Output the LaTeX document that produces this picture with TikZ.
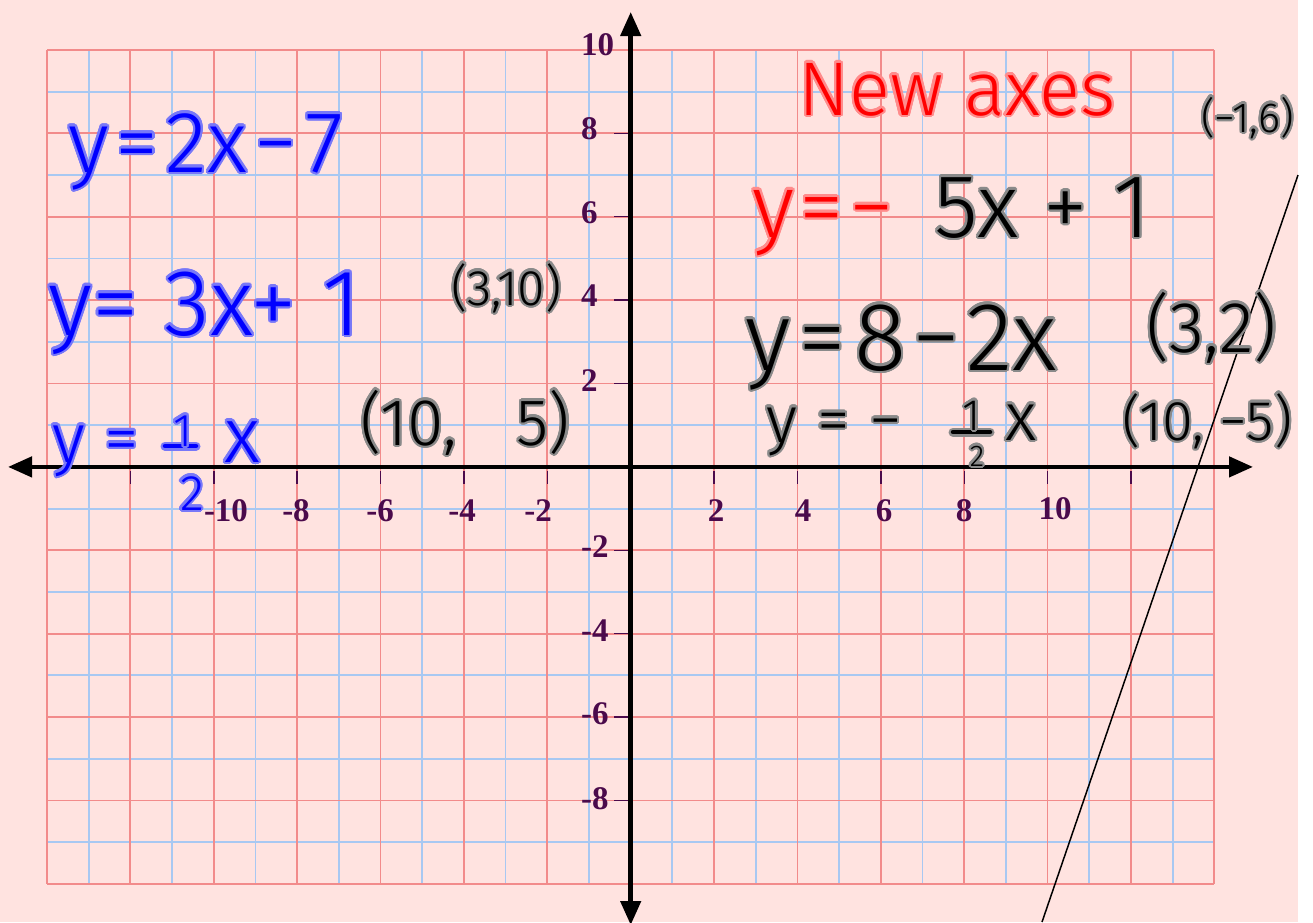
\documentclass[tikz,border=0pt]{standalone}
\usepackage{fontspec}
\usepackage{contour}
\usetikzlibrary{arrows.meta}
\newfontfamily\hand{Fira Sans Light}
\newfontfamily\lblfont{Liberation Serif}
\definecolor{bg}{HTML}{FFE3E0}
\definecolor{gridR}{HTML}{F28B8B}
\definecolor{gridB}{HTML}{A8C8F2}
\definecolor{lab}{HTML}{4B0A4B}
\definecolor{inkB}{HTML}{0000FF}
\definecolor{haloB}{HTML}{7878F8}
\definecolor{inkK}{HTML}{000000}
\definecolor{haloK}{HTML}{8A8A8A}
\definecolor{inkR}{HTML}{FF0000}
\definecolor{haloR}{HTML}{FF8C8C}
\contourlength{2.2pt}
\contournumber{24}
\newcommand\hsz[1]{\fontsize{#1}{#1}\selectfont}
\newcommand\inkblue[2]{{\hand\hsz{#1}\color{inkB}\contour{haloB}{#2}}}
\newcommand\inkblack[2]{{\hand\hsz{#1}\color{inkK}\contour{haloK}{#2}}}
\newcommand\inkred[2]{{\hand\hsz{#1}\color{inkR}\contour{haloR}{#2}}}
\tikzset{
  gb/.style={draw=gridB, line width=1.8pt},
  gr/.style={draw=gridR, line width=1.8pt},
  axisline/.style={line width=4.5pt, {Triangle[length=24pt,width=20pt]}-{Triangle[length=24pt,width=20pt]}},
  tickmark/.style={draw=lab, line width=1.4pt},
  xlab/.style={font=\lblfont\bfseries\hsz{33}, text=lab, inner sep=0pt, anchor=base},
  ylab/.style={font=\lblfont\bfseries\hsz{33}, text=lab, inner sep=0pt, anchor=base west},
  hw/.style={inner sep=0pt, anchor=base west},
  hwc/.style={inner sep=0pt, anchor=base},
  barhaloB/.style={draw=haloB, line width=9pt, line cap=round},
  barcoreB/.style={draw=inkB, line width=4.5pt, line cap=round},
  barhaloK/.style={draw=haloK, line width=9pt, line cap=round},
  barcoreK/.style={draw=inkK, line width=4.5pt, line cap=round},
  thinline/.style={draw=black, line width=1.5pt}
}
\begin{document}
\begin{tikzpicture}[x=1pt,y=-1pt]
\fill[white] (0,0) rectangle (1313,922);
\fill[bg] (0,0) rectangle (1298,922);
\useasboundingbox (0,0) rectangle (1313,922);
\def\u{41.69}
% grid
\foreach \i in {1,3,...,27} \draw[gb] ({47+\i*\u},50) -- ({47+\i*\u},883.8);
\foreach \j in {1,3,...,19} \draw[gb] (47,{50+\j*\u}) -- (1214.3,{50+\j*\u});
\foreach \i in {0,2,...,28} \draw[gr] ({47+\i*\u},50) -- ({47+\i*\u},883.8);
\foreach \j in {0,2,...,20} \draw[gr] (47,{50+\j*\u}) -- (1214.3,{50+\j*\u});
% ticks
\foreach \k in {-12,-10,-8,-6,-4,-2,2,4,6,8,10,12} \draw[tickmark] ({630.7+\k*\u},471) -- ++(0,13);
\foreach \k in {-8,-6,-4,-2,2,4,6,8} \draw[tickmark] (614,{466.9-\k*\u}) -- (628,{466.9-\k*\u});
% axes
\coordinate (xleft) at (8,466.9);
\coordinate (xright) at (1253,466.9);
\coordinate (ytop) at (630.7,12);
\coordinate (ybot) at (630.7,925);
\draw[axisline] (xleft) -- (xright);
\draw[axisline] (ybot) -- (ytop);
% axis labels
\node[xlab] (lxa) at (226,521) {-10};
\node[xlab] (lxb) at (296,521) {-8};
\node[xlab] (lxc) at (380,521) {-6};
\node[xlab] (lxd) at (462,521) {-4};
\node[xlab] (lxe) at (538,521) {-2};
\node[xlab] (lxf) at (716,521) {2};
\node[xlab] (lxg) at (803,521) {4};
\node[xlab] (lxh) at (884,521) {6};
\node[xlab] (lxi) at (964,521) {8};
\node[xlab] (lxj) at (1055,519) {10};
\node[ylab] (lya) at (581,55) {10};
\node[ylab] (lyb) at (581,139) {8};
\node[ylab] (lyc) at (581,223) {6};
\node[ylab] (lyd) at (581,306) {4};
\node[ylab] (lye) at (581,391) {2};
\node[ylab] (lyf) at (581,557) {-2};
\node[ylab] (lyg) at (581,641) {-4};
\node[ylab] (lyh) at (581,724) {-6};
\node[ylab] (lyi) at (581,809) {-8};
% slanted line
\coordinate (la) at (1298,175);
\coordinate (lb) at (1042,922);
\draw[thinline] (la) -- (lb);
% blue handwriting
\node[hw] (eqa) at (68,172) {\inkblue{87}{y\hspace{7pt}=\hspace{7pt}2x\hspace{7pt}−\hspace{8pt}7}};
\node[hw] (eqb) at (48,335) {\inkblue{94}{y= 3x+ 1}};
\node[hw] (eqc) at (52,462) {\inkblue{70}{y =}};
\draw[barhaloB] (165,446) -- (196,446);
\draw[barcoreB] (165,446) -- (196,446);
\node[hwc] (eqcone) at (183,446) {\inkblue{46}{1}};
\node[hwc] (eqctwo) at (192,510) {\inkblue{50}{2}};
\node[hw] (eqcx) at (224,462) {\inkblue{78}{x}};
% red / black handwriting right
\node[hw] (newax) at (798,115) {\inkred{76}{New axes}};
\node[hw] (eqda) at (752,237) {\inkred{90}{y\hspace{5pt}=\hspace{6pt}−}};
\node[hw] (eqdb) at (934,237) {\inkblack{90}{5x + 1}};
\node[hw] (eqe) at (745,370) {\inkblack{97}{y\hspace{8pt}=\hspace{8pt}8\hspace{6pt}−\hspace{6pt}2x}};
\node[hw] (pta) at (1146,352) {\inkblack{72}{(3,2)}};
\node[hw] (eqf) at (766,442) {\inkblack{66}{y\hspace{20pt}=\hspace{20pt}−}};
\draw[barhaloK] (953,432) -- (990,432);
\draw[barcoreK] (953,432) -- (990,432);
\node[hwc] (eqfone) at (972,430) {\inkblack{44}{1}};
\node[hwc] (eqftwo) at (977,466) {\inkblack{30}{2}};
\node[hw] (eqfx) at (1005,440) {\inkblack{68}{x}};
\node[hw] (ptb) at (1122,440) {\inkblack{56}{(10, −5)}};
\node[hw] (ptc) at (1201,132) {\inkblack{42}{(−1,6)}};
\node[hw] (ptd) at (451,305) {\inkblack{50}{(3,10)}};
\node[hw] (pte) at (360,445) {\inkblack{66}{(10,\hspace{60pt}5)}};
\end{tikzpicture}
\end{document}
